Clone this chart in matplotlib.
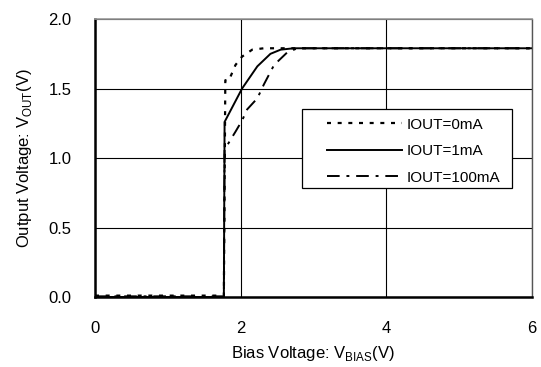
import matplotlib
matplotlib.use("Agg")
import matplotlib.pyplot as plt
from matplotlib.patches import Rectangle

plt.rcParams['font.family'] = ['Liberation Sans', 'DejaVu Sans']

# IOUT = 0mA
x0 = [0.0, 1.0, 1.77, 1.79, 1.84, 1.93, 2.02, 2.16, 2.32, 3.0, 6.0]
y0 = [0.01, 0.01, 0.01, 1.56, 1.56, 1.67, 1.73, 1.78, 1.79, 1.79, 1.79]
# IOUT = 1mA
x1 = [0.0, 1.0, 1.77, 1.78, 1.90, 2.02, 2.23, 2.41, 2.55, 2.73, 3.0, 6.0]
y1 = [0.0, 0.0, 0.0, 1.26, 1.38, 1.50, 1.66, 1.75, 1.78, 1.79, 1.79, 1.79]
# IOUT = 100mA
x2 = [0.0, 1.0, 1.77, 1.78, 1.86, 1.93, 2.02, 2.09, 2.23, 2.32, 2.46, 2.64, 2.78, 3.0, 6.0]
y2 = [0.005, 0.005, 0.005, 1.06, 1.13, 1.19, 1.27, 1.35, 1.43, 1.53, 1.67, 1.76, 1.79, 1.79, 1.79]

labels = ['IOUT=0mA', 'IOUT=1mA', 'IOUT=100mA']
xticks = [0, 2, 4, 6]
yticks = [0.0, 0.5, 1.0, 1.5, 2.0]

fig = plt.figure(figsize=(5.41, 3.67), dpi=100)
ax = fig.add_axes([0.1756, 0.1907, 0.983 - 0.1756, 0.948 - 0.1907])

ax.plot(x0, y0, color='black', lw=1.6, linestyle=(0, (1.8, 3.0)), label=labels[0])
ax.plot(x1, y1, color='black', lw=1.4, linestyle='-', label=labels[1])
ax.plot(x2, y2, color='black', lw=1.4, linestyle=(0, (6.5, 3.5, 1.5, 3.5)), label=labels[2])

ax.set_xlim(0, 6)
ax.set_ylim(0, 2.0)
ax.set_xticks(xticks)
ax.set_yticks(yticks)
ax.set_xticklabels([str(v) for v in xticks])
ax.set_yticklabels([f"{v:.1f}" for v in yticks])
ax.tick_params(length=0, labelsize=12)
ax.tick_params(axis='y', pad=17)
ax.tick_params(axis='x', pad=17)
ax.grid(True, color='black', lw=0.8)
ax.set_axisbelow(True)

ax.spines['left'].set_linewidth(1.8)
ax.spines['bottom'].set_linewidth(1.8)
ax.spines['top'].set_color('#999999')
ax.spines['top'].set_linewidth(1.2)
ax.spines['right'].set_color('#555555')
ax.spines['right'].set_linewidth(1.0)

ax.set_xlabel(r'Bias Voltage: V$_{\mathregular{BIAS}}$(V)', fontsize=12, labelpad=6)
ax.set_ylabel(r'Output Voltage: V$_{\mathregular{OUT}}$(V)', fontsize=12, labelpad=10)

# legend box
box = Rectangle((0.4737, 0.392), 0.954 - 0.4737, 0.676 - 0.392, transform=ax.transAxes,
                facecolor='white', edgecolor='black', lw=0.9, zorder=4)
ax.add_patch(box)
leg = ax.legend(loc='upper left', bbox_to_anchor=(0.531, 0.645), frameon=False,
                fontsize=11, handlelength=4.9, handletextpad=0.3, borderpad=0,
                labelspacing=0.82, borderaxespad=0)
leg.set_zorder(5)

fig.savefig('out.png', dpi=100)
